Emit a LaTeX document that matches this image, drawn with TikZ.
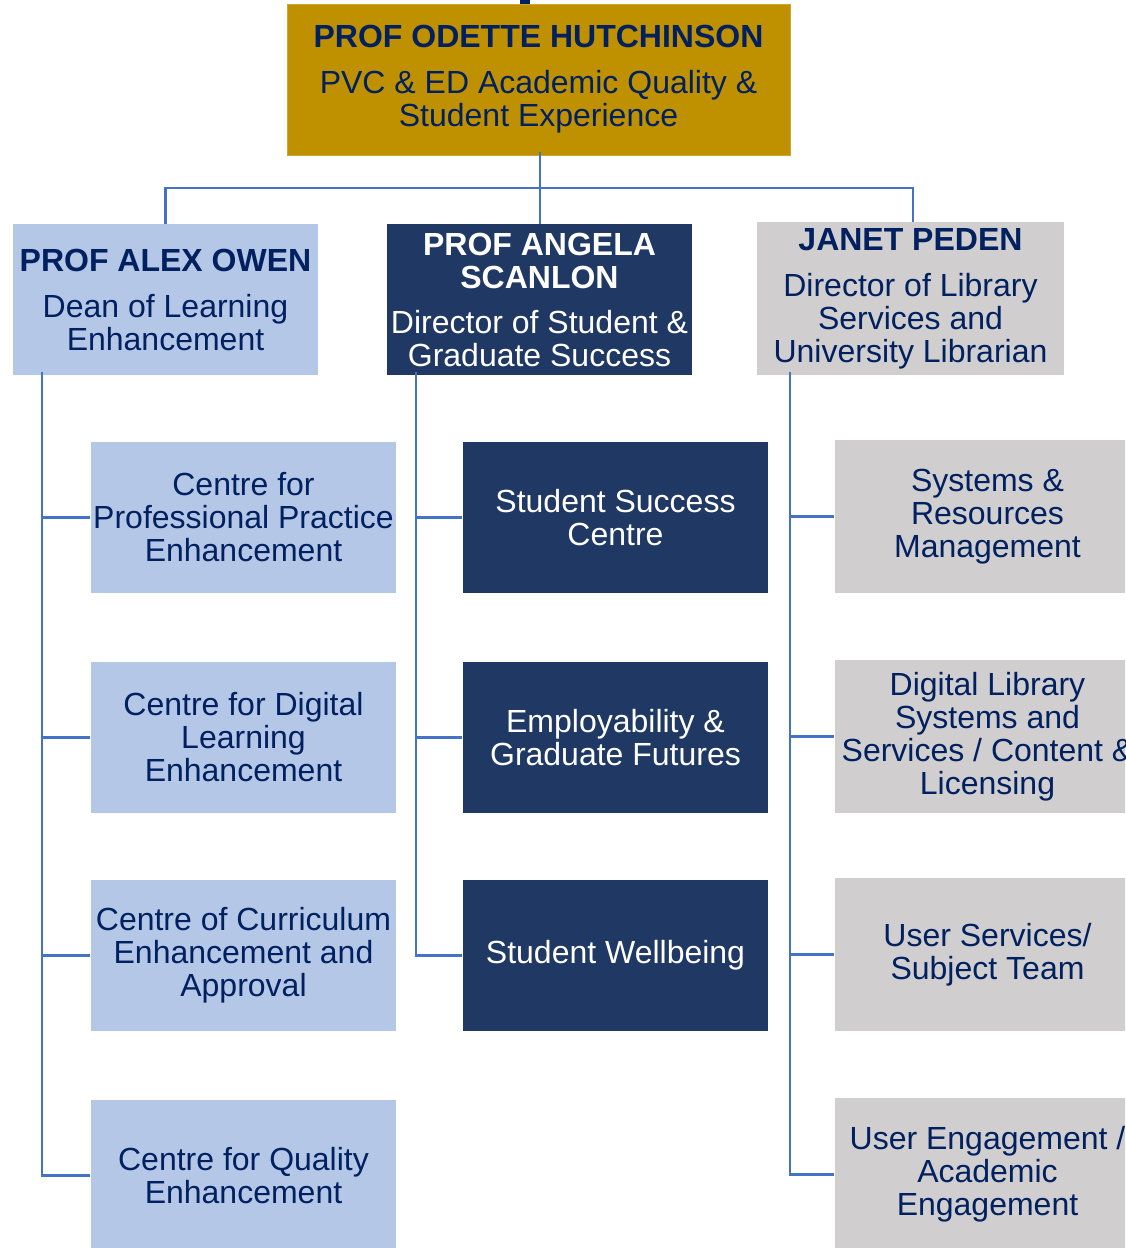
\documentclass[tikz,border=0pt]{standalone}
\usepackage{fontspec}
\setmainfont{Liberation Sans}
\definecolor{gold}{HTML}{BF9000}
\definecolor{navytext}{HTML}{002060}
\definecolor{navyfill}{HTML}{203864}
\definecolor{lightblue}{HTML}{B4C7E7}
\definecolor{lightgray}{HTML}{D0CECE}
\definecolor{linkblue}{HTML}{4472C4}
\tikzset{
  box/.style={rectangle, inner sep=0pt, align=center, minimum width=305pt, minimum height=151pt,
    font=\fontsize{32}{33}\selectfont},
  goldbox/.style={box, fill=gold, text=navytext, draw=gold!80!white, line width=0.8pt},
  bluebox/.style={box, fill=lightblue, text=navytext},
  navybox/.style={box, fill=navyfill, text=white},
  graybox/.style={box, fill=lightgray, text=navytext},
  link/.style={draw=linkblue, line width=2.6pt},
}
\begin{document}
\begin{tikzpicture}[x=1pt,y=-1pt]
\clip (0,0) rectangle (1125,1248);
\fill[white] (0,0) rectangle (1125,1248);

% top
\node[goldbox, minimum width=503pt] (top) at (538.5,79.5)
  {\textbf{PROF ODETTE HUTCHINSON}\\[13pt]PVC \& ED Academic Quality \&\\Student Experience};
\coordinate (topstub) at (525,-4);
\draw[navytext, line width=10pt] (topstub) -- (topstub |- top.north);

% level 2
\node[bluebox] (alex) at (165.5,299.5)
  {\textbf{PROF ALEX OWEN}\\[13pt]Dean of Learning\\Enhancement};
\node[navybox] (angela) at (539.5,299.5)
  {\textbf{PROF ANGELA}\\\textbf{SCANLON}\\[12pt]Director of Student \&\\Graduate Success};
\node[graybox, minimum width=307pt, minimum height=153pt] (janet) at (910.5,298.5)
  {\textbf{JANET PEDEN}\\[13pt]Director of Library\\Services and\\University Librarian};

% left column
\node[bluebox] (l1) at (243.5,517.5) {Centre for\\Professional Practice\\Enhancement};
\node[bluebox] (l2) at (243.5,737.5) {Centre for Digital\\Learning\\Enhancement};
\node[bluebox] (l3) at (243.5,955.5) {Centre of Curriculum\\Enhancement and\\Approval};
\node[bluebox] (l4) at (243.5,1175.5) {Centre for Quality\\Enhancement};

% middle column
\node[navybox] (m1) at (615.5,517.5) {Student Success\\Centre};
\node[navybox] (m2) at (615.5,737.5) {Employability \&\\Graduate Futures};
\node[navybox] (m3) at (615.5,955.5) {Student Wellbeing};

% right column
\node[graybox, minimum height=153pt] (r1) at (987.5,516.5) {Systems \&\\Resources\\Management};
\node[graybox, minimum height=153pt] (r2) at (987.5,736.5) {Digital Library\\Systems and\\Services / Content \&\\Licensing};
\node[graybox, minimum height=153pt] (r3) at (987.5,954.5) {User Services/\\Subject Team};
\node[graybox, minimum height=153pt] (r4) at (987.5,1174.5) {User Engagement /\\Academic\\Engagement};

% top connectors
\coordinate (bus) at (540,188);
\draw[link] ([yshift=3pt]top.south -| bus) -- (bus |- angela.north);
\draw[link] (alex.north) -- (alex.north |- bus) -- ([xshift=2.5pt]janet.north |- bus) -- ([xshift=2.5pt]janet.north);

% child connectors
\coordinate (lbus) at ([xshift=29pt,yshift=3pt]alex.south west);
\coordinate (mbus) at ([xshift=29pt,yshift=3pt]angela.south west);
\coordinate (rbus) at ([xshift=33pt,yshift=3pt]janet.south west);
\foreach \c in {l1,l2,l3,l4} \draw[link] (lbus) |- ([xshift=-1pt]\c.west);
\foreach \c in {m1,m2,m3} \draw[link] (mbus) |- ([xshift=-1pt]\c.west);
\foreach \c in {r1,r2,r3,r4} \draw[link] (rbus) |- ([xshift=-1pt]\c.west);
\end{tikzpicture}
\end{document}
